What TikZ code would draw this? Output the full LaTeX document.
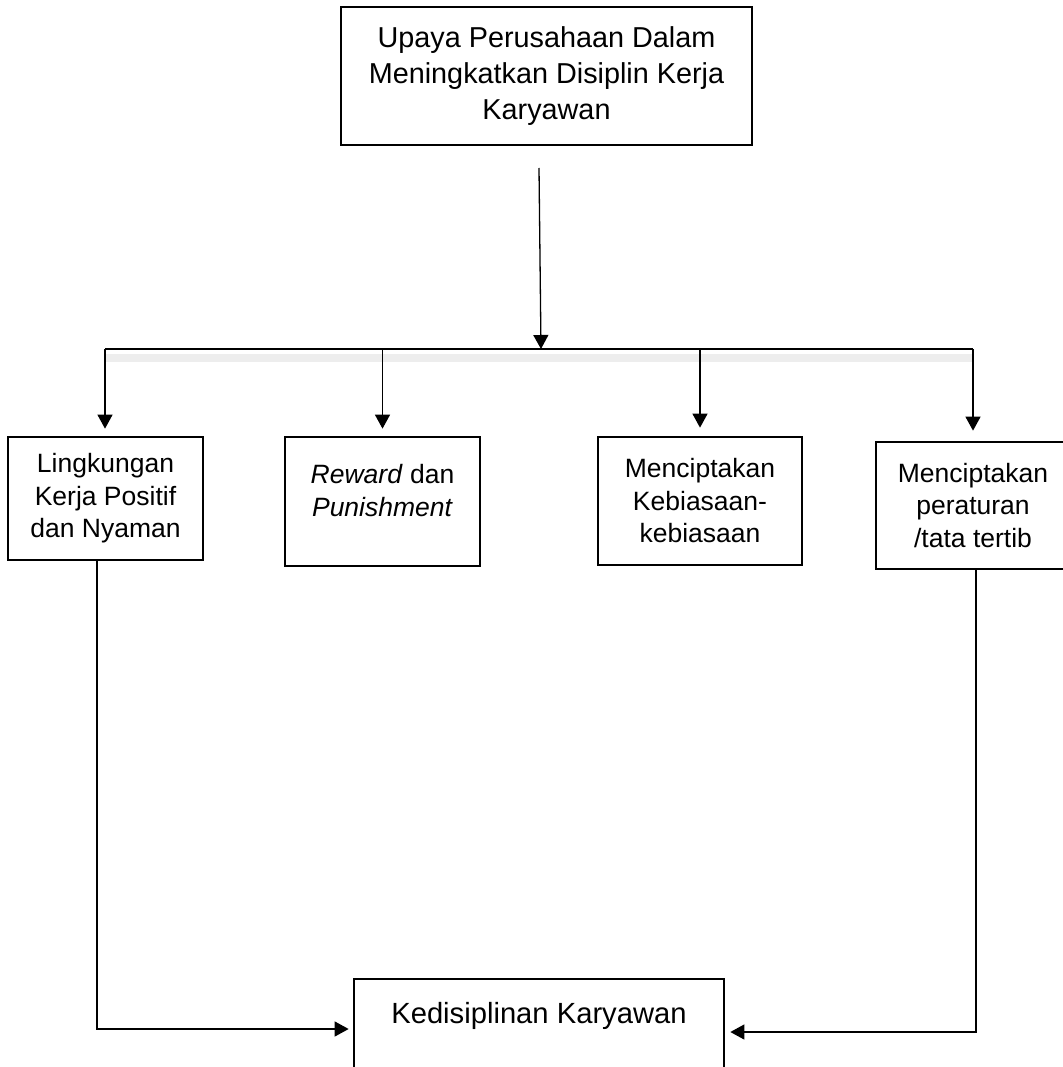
\documentclass[tikz,border=0pt]{standalone}
\usepackage{fontspec}
\setmainfont{Liberation Sans}
\usetikzlibrary{arrows.meta}

\begin{document}
\begin{tikzpicture}[x=1pt, y=-1pt,
    kotak/.style={draw, line width=2.7pt, align=center, inner sep=0pt, font=\fontsize{26.5}{32.5}\selectfont},
    panah/.style={line width=1.3pt, -{Triangle[length=14pt, width=15pt]}},
    garis/.style={line width=1.3pt}]
\useasboundingbox (0,0) rectangle (1062,1067);

\node[kotak, minimum width=411pt, minimum height=138pt, font=\fontsize{28.8}{36}\selectfont] (upaya) at (546.5,76) {Upaya Perusahaan Dalam\\Meningkatkan Disiplin Kerja\\Karyawan};

\node[kotak, minimum width=195pt, minimum height=123pt] (lingkungan) at (105.5,498.5) {Lingkungan\\Kerja Positif\\dan Nyaman};
\node[kotak, minimum width=195pt, minimum height=129pt] (reward) at (382.5,501.5) {\textit{Reward} dan\\\textit{Punishment}\\[-10pt]\mbox{}};
\node[kotak, minimum width=204pt, minimum height=128pt] (kebiasaan) at (700,501) {Menciptakan\\Kebiasaan-\\kebiasaan};
\node[kotak, minimum width=194pt, minimum height=127pt] (peraturan) at (973,505.5) {Menciptakan\\peraturan\\/tata tertib};

\node[kotak, minimum width=370pt, anchor=base, text height=24pt, text depth=70pt, inner ysep=20pt, font=\fontsize{29.2}{35}\selectfont] (disiplin) at (539,1023) {Kedisiplinan Karyawan};

\coordinate (awal) at (539,168);
\coordinate (pusat) at (541,349);
\coordinate (kiri) at (105,349);
\coordinate (kanan) at (973,349);

\draw[panah] (awal) -- (pusat);
\draw[line width=8pt, black!7] ([yshift=-9pt]kiri) -- ([yshift=-9pt]kanan);
\draw[garis] (kiri) -- (kanan);
\draw[panah, shorten >=7pt] (kiri) -- (kiri |- lingkungan.north);
\draw[panah, shorten >=7pt] (reward.north |- kiri) -- (reward.north);
\draw[panah, shorten >=8pt] (kebiasaan.north |- kiri) -- (kebiasaan.north);
\draw[panah, shorten >=10pt] (kanan) -- (kanan |- peraturan.north);

\draw[panah, shorten >=4pt] ([xshift=-8.5pt]lingkungan.south) |- ([yshift=-6pt]disiplin.base west);
\draw[panah, shorten >=5pt] ([xshift=3pt]peraturan.south) |- ([yshift=-9pt]disiplin.base east);
\end{tikzpicture}
\end{document}
